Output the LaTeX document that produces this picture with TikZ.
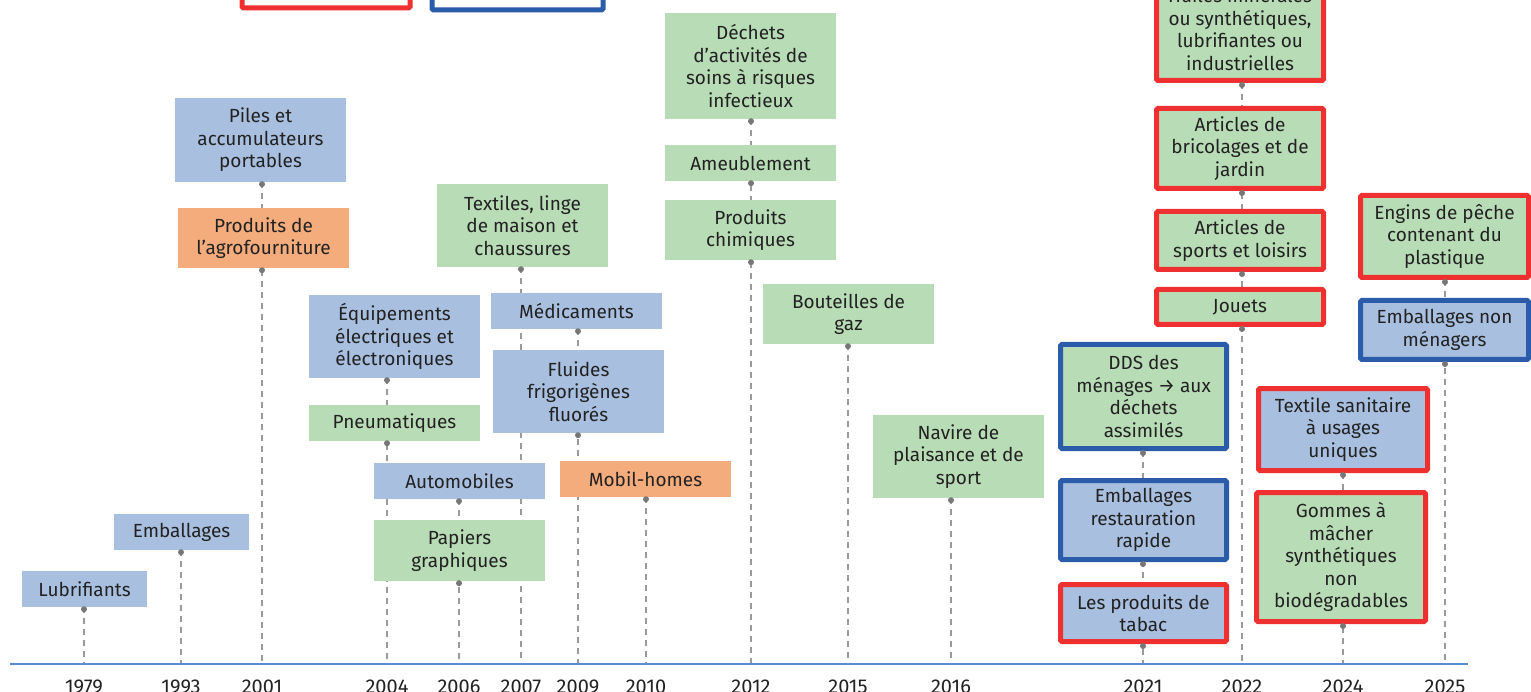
\documentclass[tikz,border=0pt]{standalone}
\usepackage{fontspec}
\setmainfont{Fira Sans}
\usetikzlibrary{calc}
\pgfdeclarelayer{bg}
\pgfsetlayers{bg,main}
\definecolor{bfill}{HTML}{A8BFE0}
\definecolor{gfill}{HTML}{B8DCB5}
\definecolor{ofill}{HTML}{F4AC7C}
\definecolor{rline}{HTML}{EE3030}
\definecolor{bline}{HTML}{2A5CAA}
\definecolor{dashc}{HTML}{9A9A9A}
\definecolor{dotc}{HTML}{777777}
\definecolor{axc}{HTML}{5B8BD0}
\definecolor{txt}{HTML}{222222}
\tikzset{
  box/.style={inner sep=0pt, align=center, text=txt, font=\fontsize{19}{22.5}\selectfont},
  bluebox/.style={box, fill=bfill},
  greenbox/.style={box, fill=gfill},
  orangebox/.style={box, fill=ofill},
  redframe/.style={draw=rline, line width=5pt, rounded corners=1.5pt},
  blueframe/.style={draw=bline, line width=5pt, rounded corners=1.5pt},
  conn/.style={draw=dashc, line width=1.8pt, dash pattern=on 6pt off 5pt},
  axisline/.style={draw=axc, line width=1.5pt},
  yearlbl/.style={anchor=base, font=\fontsize{20}{22}\selectfont, text=txt},
}
% plain box: outer corners x1,y1,x2,y2
\newcommand\tlbox[7]{\node[#2, minimum width={(#5)-(#3)}, minimum height={(#6)-(#4)}] (#1) at ({((#3)+(#5))/2},{((#4)+(#6))/2}) {#7};}
% framed box: outer corners incl. frame
\newcommand\tlfbox[7]{\node[#2, minimum width={(#5)-(#3)-5}, minimum height={(#6)-(#4)-5}] (#1) at ({((#3)+(#5))/2},{((#4)+(#6))/2}) {#7};}
\newcommand\tldot[2]{\fill[dotc] ($(#1.south -| #2)+(0,2)$) circle (3pt);}
\begin{document}
\begin{tikzpicture}[x=1pt,y=-1pt]
\useasboundingbox (0,0) rectangle (1531,692);
% legend frames cut by the top edge
\draw[redframe, fill=white] (242,-30) rectangle (410,8);
\draw[blueframe, fill=white] (432,-30) rectangle (603,10);
% axis
\coordinate (axL) at (10,664);
\coordinate (axR) at (1468,664);
\draw[axisline] (axL) -- (axR);
\foreach \yr/\xx in {1979/84,1993/181,2001/262,2004/387,2006/459,2007/521,2009/578,2010/646,2012/751,2015/848,2016/951,2021/1143,2022/1242,2024/1343,2025/1445}{
  \coordinate (y\yr) at (\xx,664);
  \node[yearlbl] (l\yr) at (\xx,693) {\yr};
}
% boxes
\tlbox{lub}{bluebox}{22}{571}{147}{607}{Lubrifiants}
\tlbox{emb}{bluebox}{114}{514}{249}{550}{Emballages}
\tlbox{piles}{bluebox}{175}{98}{346}{182}{Piles et\\accumulateurs\\portables}
\tlbox{agro}{orangebox}{178}{208}{349}{268}{Produits de\\l’agrofourniture}
\tlbox{deee}{bluebox}{309}{295}{480}{378}{Équipements\\électriques et\\électroniques}
\tlbox{pneu}{greenbox}{309}{405}{480}{441}{Pneumatiques}
\tlbox{auto}{bluebox}{374}{463}{545}{499}{Automobiles}
\tlbox{pap}{greenbox}{374}{520}{545}{581}{Papiers\\graphiques}
\tlbox{tlc}{greenbox}{437}{184}{608}{267}{Textiles, linge\\de maison et\\chaussures}
\tlbox{med}{bluebox}{491}{293}{662}{329}{Médicaments}
\tlbox{fluid}{bluebox}{493}{350}{664}{433}{Fluides\\frigorigènes\\fluorés}
\tlbox{mobil}{orangebox}{560}{461}{731}{497}{Mobil-homes}
\tlbox{dasri}{greenbox}{665}{13}{836}{119}{Déchets\\d’activités de\\soins à risques\\infectieux}
\tlbox{ameub}{greenbox}{665}{145}{836}{181}{Ameublement}
\tlbox{chim}{greenbox}{665}{200}{836}{260}{Produits\\chimiques}
\tlbox{gaz}{greenbox}{763}{284}{934}{344}{Bouteilles de\\gaz}
\tlbox{nav}{greenbox}{873}{415}{1044}{498}{Navire de\\plaisance et de\\sport}
\tlfbox{dds}{greenbox,blueframe}{1058}{342}{1229}{451}{DDS des\\ménages → aux\\déchets\\assimilés}
\tlfbox{embr}{bluebox,blueframe}{1058}{478}{1229}{562}{Emballages\\restauration\\rapide}
\tlfbox{tabac}{bluebox,redframe}{1058}{582}{1229}{644}{Les produits de\\tabac}
\tlfbox{huiles}{greenbox,redframe}{1154}{-25}{1326}{83}{Huiles minérales\\ou synthétiques,\\lubrifiantes ou\\industrielles}
\tlfbox{brico}{greenbox,redframe}{1154}{106}{1326}{191}{Articles de\\bricolages et de\\jardin}
\tlfbox{sport}{greenbox,redframe}{1154}{209}{1326}{272}{Articles de\\sports et loisirs}
\tlfbox{jouets}{greenbox,redframe}{1154}{287}{1326}{327}{Jouets}
\tlfbox{tsu}{bluebox,redframe}{1256}{386}{1430}{473}{Textile sanitaire\\à usages\\uniques}
\tlfbox{gomme}{greenbox,redframe}{1254}{490}{1428}{624}{Gommes à\\mâcher\\synthétiques\\non\\biodégradables}
\tlfbox{peche}{greenbox,redframe}{1358}{193}{1531}{280}{Engins de pêche\\contenant du\\plastique}
\tlfbox{embnm}{bluebox,blueframe}{1358}{298}{1531}{362}{Emballages non\\ménagers}
% connectors behind the boxes
\begin{pgfonlayer}{bg}
\draw[conn] (lub.south -| y1979) -- (y1979);
\draw[conn] (emb.south -| y1993) -- (y1993);
\draw[conn] (piles.south -| y2001) -- (y2001);
\draw[conn] (deee.south -| y2004) -- (y2004);
\draw[conn] (auto.south -| y2006) -- (y2006);
\draw[conn] (tlc.south -| y2007) -- (y2007);
\draw[conn] (med.south -| y2009) -- (y2009);
\draw[conn] (mobil.south -| y2010) -- (y2010);
\draw[conn] (dasri.south -| y2012) -- (y2012);
\draw[conn] (gaz.south -| y2015) -- (y2015);
\draw[conn] (nav.south -| y2016) -- (y2016);
\draw[conn] (dds.south -| y2021) -- (y2021);
\draw[conn] (huiles.south -| y2022) -- (y2022);
\draw[conn] (tsu.south -| y2024) -- (y2024);
\draw[conn] (peche.south -| y2025) -- (y2025);
\end{pgfonlayer}
% pins
\tldot{lub}{y1979}
\tldot{emb}{y1993}
\tldot{piles}{y2001}\tldot{agro}{y2001}
\tldot{deee}{y2004}\tldot{pneu}{y2004}
\tldot{auto}{y2006}\tldot{pap}{y2006}
\tldot{tlc}{y2007}
\tldot{med}{y2009}\tldot{fluid}{y2009}
\tldot{mobil}{y2010}
\tldot{dasri}{y2012}\tldot{ameub}{y2012}\tldot{chim}{y2012}
\tldot{gaz}{y2015}
\tldot{nav}{y2016}
\tldot{dds}{y2021}\tldot{embr}{y2021}\tldot{tabac}{y2021}
\tldot{huiles}{y2022}\tldot{brico}{y2022}\tldot{sport}{y2022}\tldot{jouets}{y2022}
\tldot{tsu}{y2024}\tldot{gomme}{y2024}
\tldot{peche}{y2025}\tldot{embnm}{y2025}
\end{tikzpicture}
\end{document}
